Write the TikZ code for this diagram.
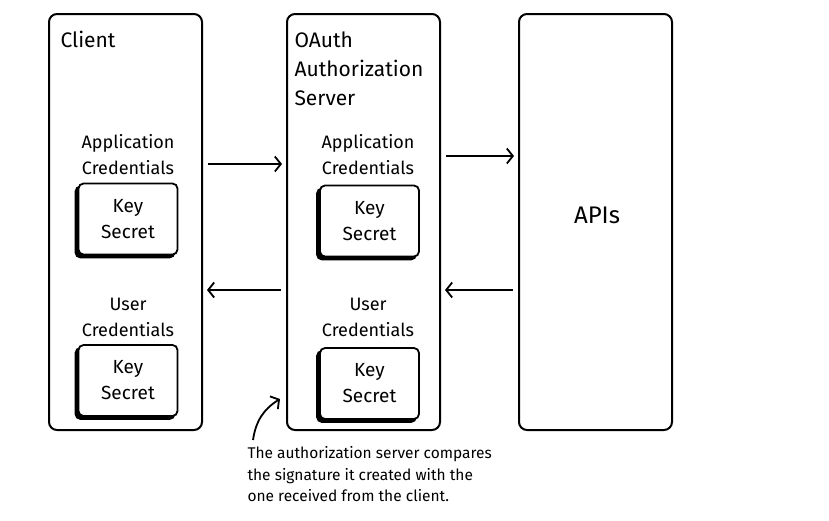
\documentclass[tikz,border=0pt]{standalone}
\usepackage{fontspec}
\setmainfont{Fira Sans}
\usetikzlibrary{arrows.meta}
\tikzset{
  column/.style={draw, line width=2pt, rounded corners=8pt, minimum width=153pt, minimum height=416pt},
  keybox/.style={draw, fill=white, line width=1.8pt, rounded corners=5pt, minimum width=99pt, minimum height=71pt, align=center, font=\fontsize{19}{26}\selectfont},
  keyshadow/.style={draw, fill=black, line width=1.8pt, rounded corners=5pt, minimum width=99pt, minimum height=71pt},
  label/.style={align=center, font=\fontsize{18}{26}\selectfont},
  flow/.style={line width=1.8pt, -{Straight Barb[length=6pt,width=15pt,line width=1.8pt]}, shorten >=4pt, shorten <=5pt}
}
\begin{document}
\begin{tikzpicture}[x=1pt,y=-1pt]
\useasboundingbox (0,0) rectangle (829,520);

\node[column] (client) at (125.5,222) {};
\node[column] (oauth) at (363.5,222) {};
\node[column] (apis) at (595.5,222) {};

\node[label, anchor=north west] (clienttitle) at (57,28) {\fontsize{21}{29}\selectfont Client};
\node[label, anchor=north west, align=left, font=\fontsize{21}{29}\selectfont] (oauthtitle) at (291,28) {OAuth\\Authorization\\Server};
\node[font=\fontsize{24}{26}\selectfont] (apistitle) at (597,215) {APIs};

\node[label] (clientapp) at (128,155) {Application\\Credentials};
\node[keyshadow] at (125,222) {};
\node[keybox] (clientappkey) at (128,219) {Key\\Secret};
\node[label] (clientuser) at (128,317) {User\\Credentials};
\node[keyshadow] at (125,383.5) {};
\node[keybox] (clientuserkey) at (128,380.5) {Key\\Secret};

\node[label] (oauthapp) at (368,155) {Application\\Credentials};
\node[keyshadow] at (366.5,224) {};
\node[keybox] (oauthappkey) at (369.5,221) {Key\\Secret};
\node[label] (oauthuser) at (368,317) {User\\Credentials};
\node[keyshadow] at (366.5,386.5) {};
\node[keybox] (oauthuserkey) at (369.5,383.5) {Key\\Secret};

\draw[flow] ([yshift=58pt]client.east) -- ([yshift=58pt]oauth.west);
\draw[flow] ([yshift=66pt]oauth.east) -- ([yshift=66pt]apis.west);
\draw[flow] ([yshift=-68pt]apis.west) -- ([yshift=-68pt]oauth.east);
\draw[flow] ([yshift=-68pt]oauth.west) -- ([yshift=-68pt]client.east);

\node[anchor=north west, align=left, font=\fontsize{15.5}{21.5}\selectfont] (note) at (244,443) {The authorization server compares\\the signature it created with the\\one received from the client.};
\coordinate (notetip) at ([xshift=-6pt,yshift=32pt]oauth.south west);
\draw[flow, shorten <=0pt, shorten >=0pt] ([xshift=9pt,yshift=3pt]note.north west) to[bend left=25] (notetip);
\end{tikzpicture}
\end{document}
